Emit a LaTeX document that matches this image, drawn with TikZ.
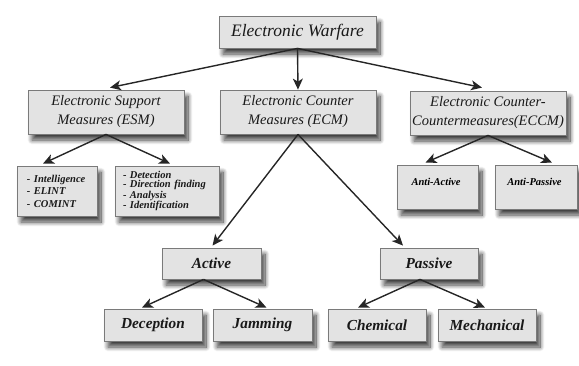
\documentclass[tikz,border=0pt]{standalone}
\usepackage{fontspec}
\setmainfont{Liberation Serif}
\usetikzlibrary{arrows.meta,shadows.blur}
\definecolor{boxfill}{HTML}{E3E3E3}
\definecolor{boxline}{HTML}{7A7A7A}
\definecolor{arrcol}{HTML}{262626}
\tikzset{
  box/.style={draw=boxline, fill=boxfill, line width=0.8pt, inner sep=0pt, text=black!90,
    blur shadow={shadow xshift=4pt, shadow yshift=-6pt, shadow blur radius=4.5pt, shadow blur steps=12, shadow opacity=75}},
  bigbox/.style={box, font=\fontsize{14.5}{19}\selectfont\itshape, align=center},
  boldbox/.style={box, font=\fontsize{15.3}{17}\selectfont\bfseries\itshape},
  smallbox/.style={box, font=\fontsize{10.5}{12.5}\selectfont\bfseries\itshape, align=left},
  arr/.style={draw=arrcol, line width=1.4pt, -{Stealth[length=11pt,width=10pt,inset=3pt]}}
}
\begin{document}
\begin{tikzpicture}[x=1pt,y=-1pt]
\useasboundingbox (0,0) rectangle (579,365);
\node[box, minimum width=157pt, minimum height=32pt, font=\fontsize{17.5}{20}\selectfont\itshape] (ew) at (297.5,32) {Electronic Warfare};
\node[bigbox, minimum width=156pt, minimum height=44pt] (esm) at (106,112) {Electronic Support\\Measures (ESM)};
\node[bigbox, minimum width=156pt, minimum height=44pt] (ecm) at (298,112) {Electronic Counter\\Measures (ECM)};
\node[bigbox, minimum width=156pt, minimum height=44pt] (eccm) at (488,113) {Electronic Counter-\\Countermeasures(ECCM)};
\node[smallbox, minimum width=80pt, minimum height=50pt, text width=60pt] (intel) at (57,191) {- Intelligence\\- ELINT\\- COMINT};
\node[smallbox, minimum width=104pt, minimum height=50pt, text width=88pt, font=\fontsize{10.5}{9.4}\selectfont\bfseries\itshape] (detect) at (167,191) {- Detection\\- Direction finding\\- Analysis\\- Identification};
\node[box, minimum width=81pt, minimum height=44pt] (antia) at (437.5,187) {};
\node[font=\fontsize{10.5}{12}\selectfont\bfseries\itshape, inner sep=0pt] (antiat) at (436,182) {Anti-Active};
\node[box, minimum width=82pt, minimum height=44pt] (antip) at (536,187) {};
\node[font=\fontsize{10.5}{12}\selectfont\bfseries\itshape, inner sep=0pt] (antipt) at (534.5,182) {Anti-Passive};
\node[boldbox, minimum width=99pt, minimum height=31pt] (active) at (211.5,263.5) {Active};
\node[boldbox, minimum width=98pt, minimum height=31pt] (passive) at (429,263.5) {Passive};
\node[boldbox, minimum width=98pt, minimum height=32pt] (decep) at (153,325) {Deception};
\node[boldbox, minimum width=99pt, minimum height=32pt] (jam) at (262.5,325) {Jamming};
\node[boldbox, minimum width=98pt, minimum height=32pt] (chem) at (377,325) {Chemical};
\node[boldbox, minimum width=98pt, minimum height=32pt] (mech) at (487,325) {Mechanical};
\draw[arr] (ew.south) -- ([xshift=4pt,yshift=2pt]esm.north);
\draw[arr] (ew.south) -- (ecm.north);
\draw[arr] (ew.south) -- ([xshift=-6pt,yshift=3pt]eccm.north);
\draw[arr] (esm.south) -- ([xshift=-14pt,yshift=2pt]intel.north);
\draw[arr] (esm.south) -- ([xshift=3pt,yshift=2pt]detect.north);
\draw[arr] (ecm.south) -- ([xshift=1pt,yshift=2pt]active.north);
\draw[arr] (ecm.south) -- ([xshift=-26pt,yshift=2pt]passive.north);
\draw[arr] (eccm.south) -- ([xshift=-12pt,yshift=2pt]antia.north);
\draw[arr] (eccm.south) -- ([xshift=16pt,yshift=2pt]antip.north);
\draw[arr] ([xshift=-8pt]active.south) -- ([xshift=-11pt,yshift=1pt]decep.north);
\draw[arr] ([xshift=-8pt]active.south) -- ([xshift=4pt,yshift=1pt]jam.north);
\draw[arr] ([xshift=-9pt]passive.south) -- ([xshift=-19pt,yshift=1pt]chem.north);
\draw[arr] ([xshift=-9pt]passive.south) -- ([xshift=-2pt,yshift=1pt]mech.north);
\end{tikzpicture}
\end{document}
